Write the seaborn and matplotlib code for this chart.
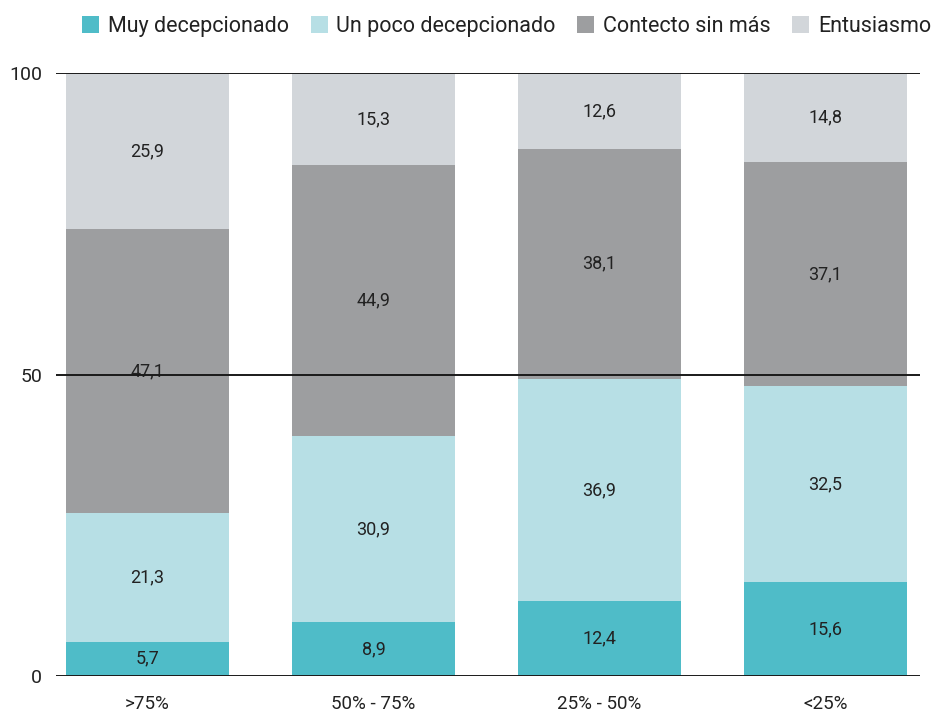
import matplotlib
matplotlib.use("Agg")
import matplotlib.pyplot as plt
from matplotlib.patches import Patch
import seaborn as sns
import pandas as pd
import numpy as np

categories = [">75%", "50% - 75%", "25% - 50%", "<25%"]
series_names = ["Muy decepcionado", "Un poco decepcionado", "Contecto sin más", "Entusiasmo"]
muy_decepcionado = [5.7, 8.9, 12.4, 15.6]
poco_decepcionado = [21.3, 30.9, 36.9, 32.5]
contento = [47.1, 44.9, 38.1, 37.1]
entusiasmo = [25.9, 15.3, 12.6, 14.8]
y_ticks = [0, 50, 100]

colors = ["#4fbcc8", "#b7dfe5", "#9d9ea0", "#d2d6da"]

sns.set_theme(style="white")
plt.rcParams["font.family"] = ["Roboto", "DejaVu Sans"]

values = [muy_decepcionado, poco_decepcionado, contento, entusiasmo]

fig = plt.figure(figsize=(9.4, 7.12), dpi=100)
ax = fig.add_axes([56 / 940, 1 - 676 / 712, (920 - 56) / 940, (676 - 73) / 712])

# stacked bars: draw the cumulative totals back-to-front
cum = np.cumsum(np.array(values), axis=0)
for k in range(len(series_names) - 1, -1, -1):
    frame = pd.DataFrame({"categoria": categories, "valor": cum[k]})
    sns.barplot(data=frame, x="categoria", y="valor", color=colors[k],
                width=0.72, saturation=1, linewidth=0, edgecolor="none",
                ax=ax, zorder=1)

# value labels centered in each segment
for k, vals in enumerate(values):
    base = cum[k] - np.array(vals)
    for i, v in enumerate(vals):
        ax.text(i, base[i] + v / 2, f"{v:.1f}".replace(".", ","),
                ha="center", va="center", fontsize=13, color="#222222", zorder=3)

for t in y_ticks:
    ax.axhline(t, color="#1a1a1a", lw=1.4, zorder=4)

ax.set_ylim(0, 100)
ax.set_xlim(-0.405, 3.418)
ax.set_yticks(y_ticks)
ax.set_yticklabels([str(t) for t in y_ticks], fontsize=14, color="#222222")
ax.tick_params(axis="y", length=0, pad=10)
ax.tick_params(axis="x", length=0, pad=14, labelsize=13.5, colors="#222222")
ax.set_xlabel("")
ax.set_ylabel("")
for s in ax.spines.values():
    s.set_visible(False)

handles = [Patch(facecolor=c, edgecolor="none") for c in colors]
fig.legend(handles, series_names, loc="upper center", bbox_to_anchor=(0.539, 1.005),
           ncol=4, frameon=False, fontsize=15.5, handlelength=0.8, handleheight=0.8,
           handletextpad=0.4, columnspacing=1.0, labelcolor="#222222")

fig.savefig("out.png", dpi=100)
